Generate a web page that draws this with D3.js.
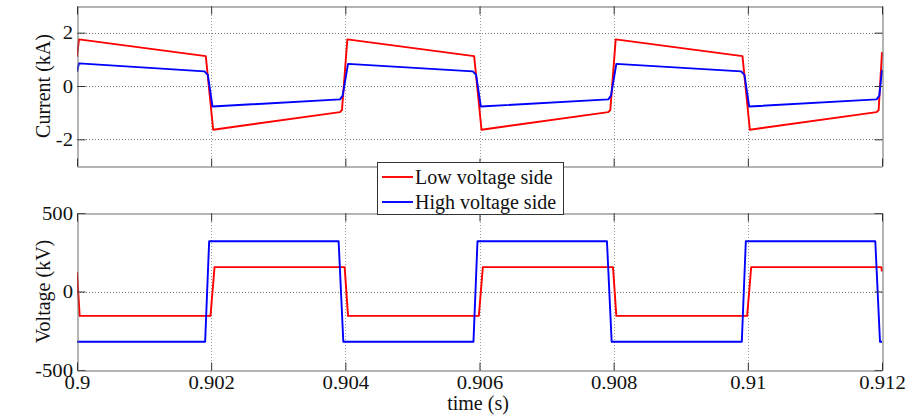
<!DOCTYPE html>
<html>
<head>
<meta charset="utf-8">
<script src="https://cdn.jsdelivr.net/npm/d3@7"></script>
<style>
  html, body { margin: 0; padding: 0; background: #fff; }
  svg text { font-family: "Liberation Serif", "Times New Roman", serif; fill: #111; }
</style>
</head>
<body>
<svg id="chart" width="912" height="418"></svg>
<script>
// Time breakpoints (s) and values for each waveform
const currentLowT = [0.90000, 0.90003, 0.90192, 0.90203, 0.90392, 0.90395, 0.90403,
  0.90592, 0.90603, 0.90792, 0.90795, 0.90803, 0.90992, 0.91003, 0.91192, 0.91195, 0.91200];
const currentLowV = [1.10, 1.75, 1.12, -1.64, -0.98, -0.90, 1.75,
  1.12, -1.64, -0.98, -0.90, 1.75, 1.12, -1.64, -0.98, -0.90, 1.27];

const currentHighT = [0.90000, 0.90003, 0.90190, 0.90195, 0.90202, 0.90392, 0.90396, 0.90404,
  0.90590, 0.90595, 0.90602, 0.90792, 0.90796, 0.90804, 0.90990, 0.90995, 0.91002, 0.91192, 0.91196, 0.91200];
const currentHighV = [0.53, 0.85, 0.55, 0.42, -0.77, -0.50, -0.36, 0.83,
  0.55, 0.42, -0.77, -0.50, -0.36, 0.83, 0.55, 0.42, -0.77, -0.50, -0.36, 0.60];

const voltageLowT = [0.90000, 0.90004, 0.90199, 0.90205, 0.90399, 0.90404, 0.90599, 0.90605,
  0.90799, 0.90804, 0.90999, 0.91005, 0.91199, 0.91200];
const voltageLowV = [123, -155, -155, 155, 155, -155, -155, 155, 155, -155, -155, 155, 155, 128];

const voltageHighT = [0.90000, 0.90191, 0.90197, 0.90390, 0.90397, 0.90591, 0.90597, 0.90790,
  0.90797, 0.90991, 0.90997, 0.91190, 0.91197, 0.91200];
const voltageHighV = [-320, -320, 320, 320, -320, -320, 320, 320, -320, -320, 320, 320, -320, -320];

const timeTicks = [0.9, 0.902, 0.904, 0.906, 0.908, 0.91, 0.912];
const currentTicks = [-2, 0, 2];
const voltageTicks = [-500, 0, 500];
const seriesNames = ["Low voltage side", "High voltage side"];
const seriesColors = ["#ff0000", "#0000ff"];

const svg = d3.select("#chart");
const left = 77, right = 882;
const labelSize = 20;      // axis titles and legend
const tickSize = 18;       // tick labels (drawn slightly widened)
const tickStretch = 1.15;
const fmt = d => String(d); // plain hyphen minus, no trailing zeros

const x = d3.scaleLinear().domain([0.9, 0.912]).range([left, right]);

function panel(top, bottom, domain, yTicks, showXLabels, series, yLabel, clipId) {
  const y = d3.scaleLinear().domain(domain).range([bottom, top]);
  const g = svg.append("g");

  g.append("rect").attr("x", left).attr("y", top).attr("width", right - left)
    .attr("height", bottom - top).attr("fill", "#fff");

  // dotted grid
  g.selectAll(".gx").data(timeTicks.slice(1, -1)).join("line")
    .attr("x1", d => Math.round(x(d)) + 0.5).attr("x2", d => Math.round(x(d)) + 0.5)
    .attr("y1", top).attr("y2", bottom)
    .attr("stroke", "#9a9a9a").attr("stroke-width", 1).attr("stroke-dasharray", "1,2");
  g.selectAll(".gy").data(yTicks.filter(v => v > domain[0] && v < domain[1])).join("line")
    .attr("x1", left).attr("x2", right)
    .attr("y1", d => Math.round(y(d)) + 0.5).attr("y2", d => Math.round(y(d)) + 0.5)
    .attr("stroke", "#777").attr("stroke-width", 1).attr("stroke-dasharray", "1,2");

  // waveforms
  svg.append("clipPath").attr("id", clipId).append("rect")
    .attr("x", left).attr("y", top - 1).attr("width", right - left + 1).attr("height", bottom - top + 2);
  const line = d3.line().x(d => x(d[0])).y(d => y(d[1]));
  series.forEach(s => {
    g.append("path").datum(d3.zip(s.t, s.v)).attr("d", line)
      .attr("fill", "none").attr("stroke", s.color).attr("stroke-width", 1.9)
      .attr("stroke-linejoin", "round").attr("clip-path", `url(#${clipId})`);
  });

  // axes (inward ticks, mirrored on all sides)
  const tl = 8;
  const axL = d3.axisLeft(y).tickValues(yTicks).tickSizeInner(-tl).tickSizeOuter(0).tickFormat(fmt);
  const axR = d3.axisRight(y).tickValues(yTicks).tickSizeInner(-tl).tickSizeOuter(0).tickFormat("");
  const axB = d3.axisBottom(x).tickValues(timeTicks).tickSizeInner(-tl).tickSizeOuter(0)
    .tickFormat(showXLabels ? fmt : "");
  const axT = d3.axisTop(x).tickValues(timeTicks).tickSizeInner(-tl).tickSizeOuter(0).tickFormat("");

  const gl = g.append("g").attr("transform", `translate(${left + 0.5},0)`).call(axL);
  const gr = g.append("g").attr("transform", `translate(${right + 0.5},0)`).call(axR);
  const gb = g.append("g").attr("transform", `translate(0,${bottom + 0.5})`).call(axB);
  const gt = g.append("g").attr("transform", `translate(0,${top + 0.5})`).call(axT);
  [gl, gr, gb, gt].forEach(a => {
    a.select(".domain").attr("stroke", "#6a6a6a");
    a.selectAll(".tick line").attr("stroke", "#333");
    a.selectAll("text").attr("font-family", "Liberation Serif").attr("font-size", tickSize)
      .attr("fill", "#111").attr("transform", `scale(${tickStretch},1)`);
  });
  gl.selectAll(".tick text").attr("x", -4.5 / tickStretch).attr("dy", null).attr("y", 6);
  gb.selectAll(".tick text").attr("dy", null).attr("y", 389 - bottom);

  g.append("text").attr("transform", `translate(43,${(top + bottom) / 2}) rotate(-90)`)
    .attr("text-anchor", "middle").attr("dy", "0.35em")
    .attr("font-size", labelSize).text(yLabel);
  return y;
}

panel(6, 166, [-3, 3], currentTicks, false, [
  { t: currentLowT, v: currentLowV, color: seriesColors[0] },
  { t: currentHighT, v: currentHighV, color: seriesColors[1] }
], "Current (kA)", "clipTop");

panel(213, 370, [-500, 500], voltageTicks, true, [
  { t: voltageLowT, v: voltageLowV, color: seriesColors[0] },
  { t: voltageHighT, v: voltageHighV, color: seriesColors[1] }
], "Voltage (kV)", "clipBottom");

svg.append("text").attr("x", 478).attr("y", 410)
  .attr("text-anchor", "middle").attr("font-size", labelSize).text("time (s)");

// legend
const lg = svg.append("g");
lg.append("rect").attr("x", 377.5).attr("y", 162.5).attr("width", 186).attr("height", 52)
  .attr("fill", "#fff").attr("stroke", "#333").attr("stroke-width", 1);
seriesNames.forEach((name, i) => {
  const cy = 177 + i * 25;
  lg.append("line").attr("x1", 382).attr("x2", 413).attr("y1", cy).attr("y2", cy)
    .attr("stroke", seriesColors[i]).attr("stroke-width", 1.9);
  lg.append("text").attr("x", 415).attr("y", cy).attr("dy", "0.35em")
    .attr("font-size", labelSize).text(name);
});
</script>
</body>
</html>
